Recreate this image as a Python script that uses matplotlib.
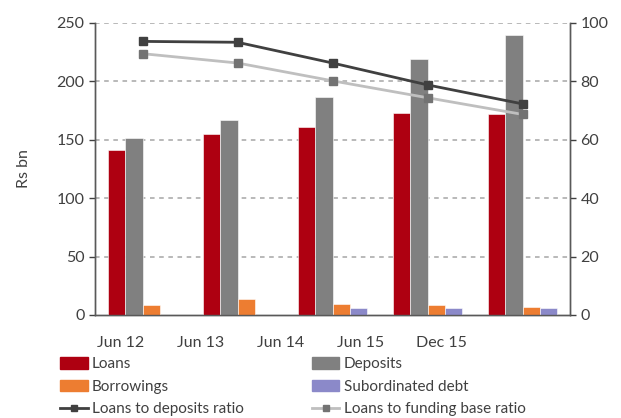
import matplotlib
matplotlib.use("Agg")
import matplotlib.pyplot as plt
import numpy as np
from matplotlib.patches import Patch
from matplotlib.lines import Line2D

plt.rcParams['font.family'] = ['Lato', 'DejaVu Sans']

categories = ["Jun 12", "Jun 13", "Jun 14", "Jun 15", "Dec 15"]
loans = [141.3, 154.7, 161.2, 173.2, 172.1]
deposits = [151.3, 166.7, 186.4, 219.5, 239.4]
borrowings = [8.3, 13.4, 9.4, 8.3, 7.1]
sub_debt = [0.0, 0.0, 6.0, 6.0, 6.0]
loans_to_deposits = [93.7, 93.4, 86.3, 78.8, 72.3]
loans_to_funding = [89.5, 86.3, 80.2, 74.4, 68.7]

W, H = 621, 418
fig = plt.figure(figsize=(W / 100, H / 100), dpi=100)
ax = fig.add_axes([95 / W, (H - 315) / H, 475 / W, 292 / H])
ax2 = ax.twinx()

txt = '#404040'
x = np.arange(len(categories))
bw = 0.184
series = [(loans, '#AE0011', 'Loans'), (deposits, '#808080', 'Deposits'),
          (borrowings, '#ED7D31', 'Borrowings'), (sub_debt, '#8B89C9', 'Subordinated debt')]
for i, (vals, col, lab) in enumerate(series):
    ax.bar(x + (i - 1.5) * bw, vals, width=bw, color=col, edgecolor='white', linewidth=0.4, zorder=3)

ax.set_xlim(-0.5, len(categories) - 0.5)
ax.set_ylim(0, 250)
ax.set_yticks(np.arange(0, 251, 50))
ax2.set_ylim(0, 100)
ax2.set_yticks(np.arange(0, 101, 20))

for yv in np.arange(50, 251, 50):
    ax.axhline(yv, color='#a6a6a6', lw=1.1, ls=(0, (3, 3)), zorder=1)

ax2.plot(x, loans_to_deposits, color='#404040', lw=2, marker='s', ms=5.5,
         mfc='#404040', mec='#404040', zorder=5)
ax2.plot(x, loans_to_funding, color='#bfbfbf', lw=2, marker='s', ms=5.5,
         mfc='#737373', mec='#737373', zorder=4)

# x tick labels (placed as in reference)
label_px = [121, 201, 281, 361, 441]
label_pos = [(p - 95) / 95 - 0.5 for p in label_px]
ax.set_xticks(label_pos)
ax.set_xticklabels(categories)
ax.tick_params(axis='x', length=0, pad=15, labelsize=11.5, colors=txt)
ax.tick_params(axis='y', length=4, direction='out', labelsize=11.5, colors=txt, width=1)
ax2.tick_params(axis='y', length=4, direction='out', labelsize=11.5, colors=txt, width=1)

for a in (ax, ax2):
    a.spines['top'].set_visible(False)
    for s in ('left', 'right', 'bottom'):
        a.spines[s].set_color('#595959')
        a.spines[s].set_linewidth(1)
ax.set_ylabel('Rs bn', fontsize=11.5, color=txt, labelpad=18)

handles = [
    Patch(color='#AE0011', label='Loans'),
    Patch(color='#ED7D31', label='Borrowings'),
    Line2D([], [], color='#404040', lw=2, marker='s', ms=4, mfc='#404040', mec='#404040',
           label='Loans to deposits ratio'),
    Patch(color='#808080', label='Deposits'),
    Patch(color='#8B89C9', label='Subordinated debt'),
    Line2D([], [], color='#bfbfbf', lw=2, marker='s', ms=4, mfc='#737373', mec='#737373',
           label='Loans to funding base ratio'),
]
leg = fig.legend(handles=handles, ncol=2, loc='upper left',
                 bbox_to_anchor=(60 / W, 1 - 357 / H), frameon=False,
                 fontsize=11, handlelength=1.8, handleheight=0.8, handletextpad=0.3,
                 labelspacing=0.55, columnspacing=4.45, borderaxespad=0, borderpad=0)
for t in leg.get_texts():
    t.set_color(txt)

fig.savefig('out.png', dpi=100)
